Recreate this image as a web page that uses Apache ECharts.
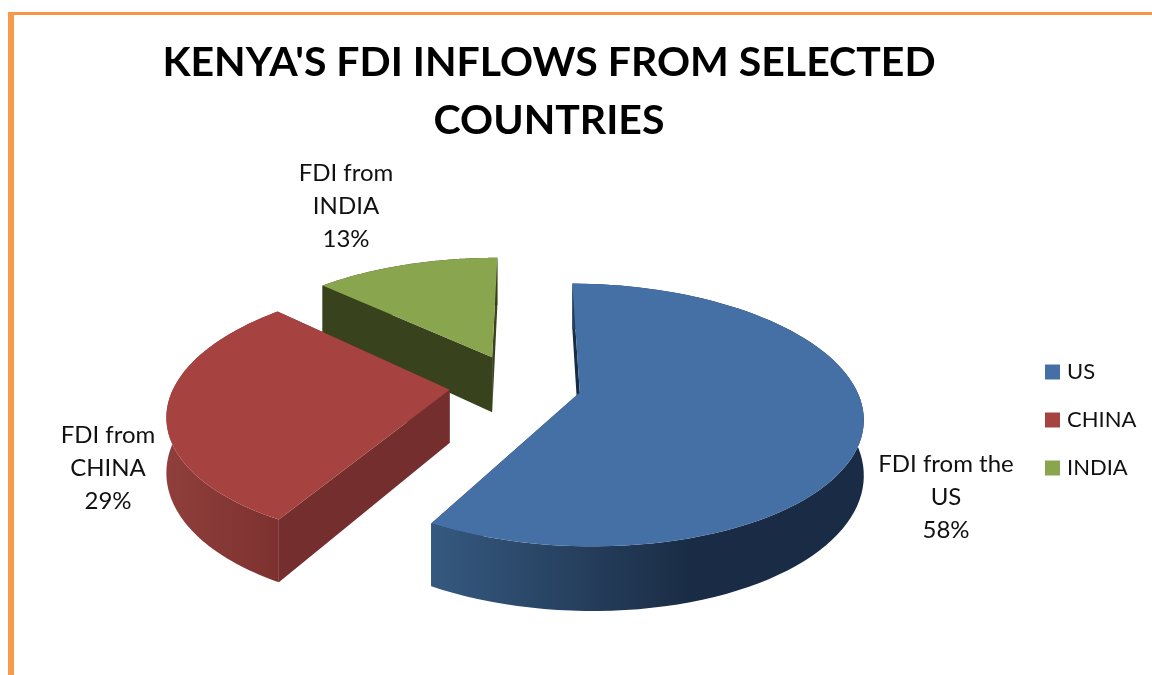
<!DOCTYPE html>
<html>
<head>
<meta charset="utf-8">
<style>html,body{margin:0;padding:0;background:#fff}#chart{width:1152px;height:675px}</style>
<script src="https://cdn.jsdelivr.net/npm/echarts@6/dist/echarts.min.js"></script>
</head>
<body>
<div id="chart"></div>
<script>
// FDI shares in percent
const countries = ['US', 'CHINA', 'INDIA'];
const shares = [58, 29, 13];
const labelTexts = ['FDI from the\nUS', 'FDI from\nCHINA', 'FDI from\nINDIA'];
const titleText = "KENYA'S FDI INFLOWS FROM SELECTED\nCOUNTRIES";

// Colours: top face, radial wall, outer wall gradient stops
const topColors = ['#4570a6', '#a64340', '#89a54e'];
const faceColors = ['#182b44', '#742e2e', '#38421c'];
const wallStops = [
  [[0, '#35597f'], [0.6, '#1a2c45'], [1, '#1a2c45']],
  [[0, '#8f3e3b'], [1, '#7d3230']],
  [[0, '#38421c'], [1, '#38421c']]
];

// Tilted-disc projection
const scene = { cx: 518, cy: 385, rx: 275, ry: 125, persp: 0.17, turn: 0.4 };
const explodes = [0.23, 0.25, 0.25];
const depths = [53, 53, 57];
const labelAnchors = [[946, 497], [108, 468], [346, 206]];

function project(u, v, drop) {
  const s = 1 / (1 + scene.persp * v);
  return [scene.cx + scene.rx * u * s, scene.cy - scene.ry * v * s + drop * s];
}

// Slice outline in disc coordinates, clockwise from twelve o'clock
function sliceShape(index, share) {
  const total = shares.reduce((a, b) => a + b, 0);
  let before = 0;
  for (let i = 0; i < index; i++) before += shares[i];
  const a0 = (before / total) * 2 * Math.PI + scene.turn * Math.PI / 180;
  const a1 = a0 + (share / total) * 2 * Math.PI;
  const mid = (a0 + a1) / 2;
  const ou = Math.sin(mid) * explodes[index];
  const ov = Math.cos(mid) * explodes[index];
  const arc = [];
  const steps = 90;
  for (let k = 0; k <= steps; k++) {
    const a = a0 + (a1 - a0) * k / steps;
    arc.push([ou + Math.sin(a), ov + Math.cos(a)]);
  }
  return { apex: [ou, ov], arc };
}

function renderSlice(index) {
  return function (params, api) {
    const { apex, arc } = sliceShape(index, api.value(0));
    const depth = depths[index];
    const up = arc.map(p => project(p[0], p[1], 0));
    const down = arc.map(p => project(p[0], p[1], depth));
    const apexUp = project(apex[0], apex[1], 0);
    const apexDown = project(apex[0], apex[1], depth);
    const n = arc.length - 1;
    const poly = (points, fill) => ({ type: 'polygon', shape: { points }, style: { fill } });
    const wallFill = new echarts.graphic.LinearGradient(0, 0, 1, 0,
      wallStops[index].map(s => ({ offset: s[0], color: s[1] })));

    return {
      type: 'group',
      children: [
        poly([up[0], apexUp, apexDown, down[0]], faceColors[index]),
        poly([up[n], apexUp, apexDown, down[n]], faceColors[index]),
        poly(up.concat(down.slice().reverse()), wallFill),
        poly([apexUp].concat(up), topColors[index]),
        {
          type: 'text',
          style: {
            text: labelTexts[index] + '\n' + api.value(0) + '%',
            x: labelAnchors[index][0], y: labelAnchors[index][1],
            align: 'center', verticalAlign: 'middle',
            font: '24px Lato', lineHeight: 33, fill: '#111'
          }
        }
      ]
    };
  };
}

const chart = echarts.init(document.getElementById('chart'), null, { renderer: 'canvas' });
chart.setOption({
  animation: false,
  backgroundColor: '#fff',
  title: {
    text: titleText,
    left: 544, top: 29, textAlign: 'center',
    textStyle: { fontFamily: 'Lato', fontWeight: 'bold', fontSize: 41, lineHeight: 58, color: '#000' }
  },
  legend: {
    orient: 'vertical', left: 1045, top: 361, padding: 0,
    data: countries,
    icon: 'rect', itemWidth: 15, itemHeight: 15, itemGap: 26,
    textStyle: { fontFamily: 'Lato', fontSize: 22, color: '#111', padding: [0, 0, 0, 2] }
  },
  graphic: [
    { type: 'rect', shape: { x: 8, y: 12, width: 1144, height: 3 }, style: { fill: '#f79646' } },
    { type: 'rect', shape: { x: 8, y: 12, width: 6, height: 663 }, style: { fill: '#f79a4c' } }
  ],
  series: countries.map((name, i) => ({
    type: 'custom',
    name,
    coordinateSystem: 'none',
    z: 4 - i,
    itemStyle: { color: topColors[i] },
    data: [{ name, value: [shares[i]] }],
    renderItem: renderSlice(i)
  }))
});
</script>
</body>
</html>
